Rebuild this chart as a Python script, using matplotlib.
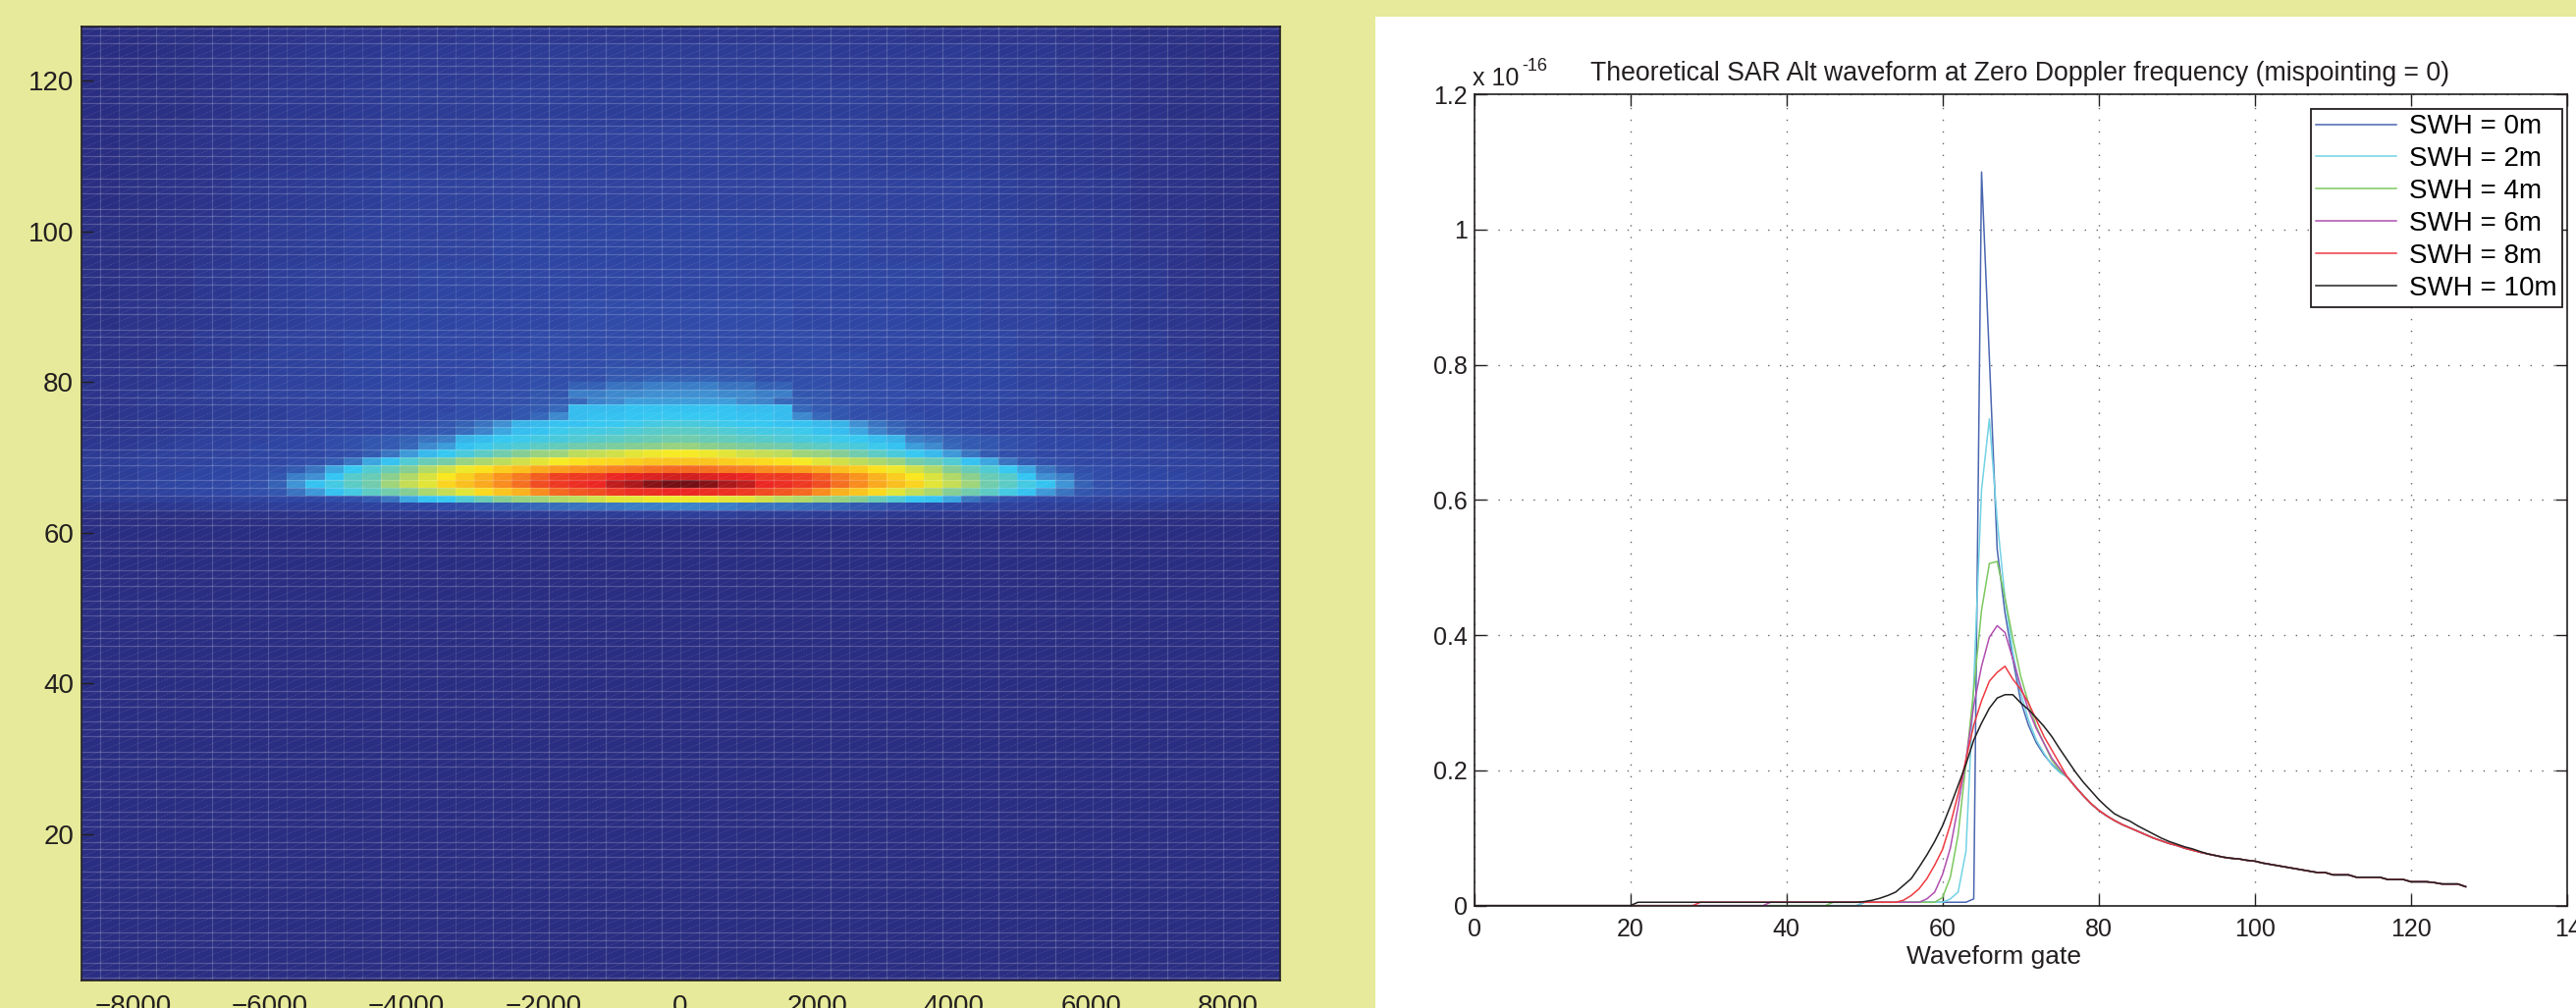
import numpy as np
import matplotlib
matplotlib.use('Agg')
import matplotlib.pyplot as plt
from matplotlib.collections import LineCollection
from matplotlib.colors import LinearSegmentedColormap
from matplotlib.patches import Rectangle
from matplotlib.transforms import ScaledTranslation

W, H = 2624, 1027
INK = '#231f20'
plt.rcParams['font.family'] = ['Liberation Sans', 'DejaVu Sans']

# left panel: power per range row, half of the Doppler beams, centre outwards
row_starts = [0, 61, 62, 63, 64, 65, 66, 67, 68, 69, 70, 71, 72, 73, 74, 75, 76, 77]
rows_low = [
    [0] * 32,
    [2, 2, 2, 2, 2, 2, 2, 2, 2, 2, 1, 1, 1, 1, 1, 1, 1, 1, 1, 1, 1, 1, 0, 0, 0, 0, 0, 0, 0, 0, 0, 0],
    [8, 8, 8, 7, 7, 7, 7, 6, 6, 6, 6, 5, 5, 5, 4, 4, 4, 3, 3, 3, 3, 2, 2, 2, 2, 1, 1, 1, 1, 1, 0, 0],
    [23, 22, 22, 21, 20, 20, 19, 18, 17, 16, 15, 14, 13, 12, 11, 10, 10, 9, 9, 8, 8, 8, 7, 7, 6, 6, 5, 5, 4, 4, 3, 3],
    [61, 61, 60, 60, 58, 56, 55, 53, 52, 50, 46, 42, 38, 36, 30, 20, 16, 14, 13, 12, 11, 11, 10, 10, 9, 9, 8, 8, 7, 7, 6, 6],
    [87, 86, 86, 85, 83, 82, 80, 76, 71, 68, 65, 60, 57, 54, 50, 47, 44, 40, 36, 27, 20, 15, 14, 13, 12, 12, 11, 10, 9, 8, 7, 7],
    [100, 98, 94, 92, 87, 86, 85, 83, 79, 76, 72, 69, 66, 60, 57, 53, 47, 44, 40, 36, 26, 17, 14, 13, 12, 12, 11, 11, 10, 9, 8, 7],
    [90, 89, 88, 87, 85, 85, 84, 81, 78, 75, 71, 67, 63, 59, 55, 51, 46, 43, 37, 25, 22, 15, 13, 12, 12, 11, 11, 10, 9, 8, 7, 7],
    [80, 79, 78, 77, 76, 75, 74, 72, 69, 67, 64, 61, 58, 55, 50, 46, 42, 38, 30, 20, 16, 14, 13, 12, 11, 11, 10, 10, 9, 8, 7, 7],
    [68, 68, 67, 66, 65, 64, 62, 60, 58, 56, 54, 52, 48, 46, 42, 36, 30, 20, 16, 14, 13, 12, 12, 11, 11, 10, 10, 9, 9, 8, 7, 7],
    [62, 61, 60, 58, 57, 56, 53, 52, 50, 47, 44, 41, 38, 34, 27, 20, 16, 14, 13, 12, 12, 11, 11, 10, 10, 10, 9, 9, 8, 7, 6, 6],
    [52, 51, 50, 49, 48, 47, 45, 44, 42, 41, 39, 36, 28, 24, 18, 16, 15, 14, 13, 12, 12, 11, 11, 10, 10, 9, 9, 8, 7, 6, 5, 5],
    [47, 46, 45, 44, 43, 42, 41, 40, 39, 38, 35, 33, 22, 20, 17, 16, 15, 14, 13, 12, 12, 11, 10, 10, 9, 9, 8, 7, 6, 5, 5, 4],
    [44, 43, 42, 41, 40, 40, 39, 36, 35, 30, 23, 19, 16, 15, 14, 13, 12, 12, 11, 11, 10, 10, 9, 9, 8, 8, 7, 6, 5, 5, 4, 4],
    [41, 40, 39, 38, 38, 36, 36, 34, 33, 25, 20, 17, 15, 14, 13, 12, 12, 11, 11, 10, 10, 9, 9, 8, 8, 7, 6, 6, 5, 4, 4, 3],
    [38, 38, 37, 36, 36, 35, 24, 18, 15, 14, 14, 13, 13, 12, 12, 11, 11, 10, 10, 9, 9, 8, 8, 7, 7, 6, 6, 5, 5, 4, 3, 3],
    [36, 36, 36, 35, 35, 35, 18, 16, 15, 14, 13, 13, 12, 12, 12, 11, 11, 10, 10, 9, 9, 8, 8, 7, 7, 6, 6, 5, 5, 4, 3, 3],
    [28, 28, 28, 24, 23, 18, 16, 15, 14, 14, 13, 13, 12, 12, 12, 11, 11, 11, 10, 10, 9, 9, 8, 8, 7, 7, 6, 6, 5, 4, 3, 3],
]
# upper rows change slowly, read in blocks of two beams
upper_starts = [78, 79, 80, 81, 82, 84, 87, 91, 96, 102, 108, 114, 120, 125]
rows_upper = [
    [25, 24, 22, 15, 14, 13, 13, 12, 12, 11, 10, 9, 8, 6, 5, 3],
    [22, 20, 17, 14, 13, 13, 12, 12, 11, 10, 10, 9, 7, 6, 4, 3],
    [17, 16, 14, 14, 13, 13, 12, 12, 11, 10, 10, 9, 7, 5, 4, 3],
    [15, 15, 14, 13, 13, 12, 12, 12, 11, 10, 9, 8, 7, 5, 4, 3],
    [14, 14, 13, 13, 13, 12, 12, 11, 11, 10, 9, 8, 6, 5, 3, 2],
    [13, 13, 13, 13, 12, 12, 12, 11, 11, 10, 9, 7, 6, 4, 3, 2],
    [13, 13, 13, 12, 12, 12, 11, 11, 10, 10, 8, 7, 5, 4, 3, 1],
    [12, 12, 12, 12, 11, 11, 11, 10, 10, 9, 8, 6, 5, 3, 2, 1],
    [11, 11, 11, 11, 11, 10, 10, 10, 9, 8, 7, 6, 4, 3, 1, 1],
    [10, 10, 10, 10, 10, 9, 9, 9, 8, 7, 6, 5, 3, 2, 1, 0],
    [9, 9, 9, 9, 9, 8, 8, 8, 7, 6, 5, 4, 3, 2, 1, 0],
    [8, 8, 8, 8, 8, 7, 7, 7, 6, 5, 5, 4, 2, 1, 1, 0],
    [7, 7, 7, 7, 6, 6, 6, 6, 5, 5, 4, 3, 2, 1, 0, 0],
    [5, 5, 5, 5, 5, 5, 4, 4, 4, 4, 3, 2, 1, 1, 0, 0],
]
doppler_ticks = [-8000, -6000, -4000, -2000, 0, 2000, 4000, 6000, 8000]
range_ticks = [20, 40, 60, 80, 100, 120]

# right panel: waveforms, x 1e-16
swh_labels = ['SWH = 0m', 'SWH = 2m', 'SWH = 4m', 'SWH = 6m', 'SWH = 8m', 'SWH = 10m']
swh_colors = ['#4a66b0', '#72d2e4', '#7cc860', '#b04fb0', '#ee3b42', INK]
first_raised_gate = [60, 55, 46, 38, 29, 21]
low_level = 0.005
# gates 50 to 75
head_0m = [.005, .005, .005, .005, .005, .005, .005, .005, .005, .005, .005, .005, .005, .005, .01,
           1.085, .81, .527, .433, .365, .303, .267, .241, .223, .209, .198]
head_2m = [.005, .005, .005, .005, .005, .005, .005, .005, .005, .005, .005, .01, .02, .08, .33,
           .615, .72, .57, .455, .375, .315, .275, .245, .225, .208, .197]
head_4m = [.005, .005, .005, .005, .005, .005, .005, .005, .005, .005, .012, .042, .105, .21, .32,
           .437, .506, .509, .455, .395, .34, .3, .265, .24, .215, .2]
head_6m = [.005, .005, .005, .005, .005, .005, .005, .005, .01, .02, .046, .085, .147, .216, .296,
           .354, .397, .414, .404, .365, .325, .29, .262, .24, .218, .203]
head_8m = [.005, .005, .005, .005, .005, .008, .015, .025, .04, .06, .083, .12, .165, .216, .267,
           .303, .332, .345, .354, .335, .32, .3, .275, .25, .23, .21]
head_10m = [.006, .008, .011, .015, .02, .03, .04, .057, .075, .095, .118, .147, .178, .209, .245,
            .27, .292, .307, .312, .312, .3, .29, .278, .265, .25, .232]
# gates 76 to 127
tail_common = [.19, .176, .163, .151, .141, .133, .126, .12, .115, .11, .105, .1, .096, .092, .089,
               .085, .082, .079, .0764, .074, .0716, .07, .069, .067, .0658, .063, .061, .059, .057, .055,
               .053, .051, .049, .049, .0455, .0455, .0455, .042, .042, .042, .042, .0387, .0387, .0387,
               .0353, .0353, .0353, .034, .032, .032, .032, .028]
tail_10m = [.215, .198, .183, .17, .157, .146, .136, .13, .125, .118, .112, .106, .1, .095, .091,
            .087, .084, .08, .0764, .074, .0716, .07, .069, .067, .0658, .063, .061, .059, .057, .055,
            .053, .051, .049, .049, .0455, .0455, .0455, .042, .042, .042, .042, .0387, .0387, .0387,
            .0353, .0353, .0353, .034, .032, .032, .032, .028]
heads = [head_0m, head_2m, head_4m, head_6m, head_8m, head_10m]
tails = [tail_common] * 5 + [tail_10m]
gate_ticks = [0, 20, 40, 60, 80, 100, 120, 140]
power_ticks = [0, 0.2, 0.4, 0.6, 0.8, 1, 1.2]
power_tick_labels = ['0', '0.2', '0.4', '0.6', '0.8', '1', '1.2']


def fig_x(px):
    return px / W


def fig_y(py):
    return 1 - py / H


def axes_rect(left, top, right, bottom):
    return [fig_x(left), fig_y(bottom), (right - left) / W, (bottom - top) / H]


fig = plt.figure(figsize=(W / 100, H / 100), dpi=100, facecolor='#e6ea9a')
fig.add_artist(Rectangle((fig_x(1401), 0), 1 - fig_x(1401), fig_y(17), transform=fig.transFigure,
                         facecolor='white', edgecolor='none', zorder=-5))

# --- left panel
jet_print = LinearSegmentedColormap.from_list('jet_print', [
    (0.0, '#2a2e82'), (0.125, '#2f48a6'), (0.25, '#3f8fd2'), (0.375, '#34c8f5'),
    (0.5, '#82cd96'), (0.625, '#faeb1e'), (0.75, '#fa961e'), (0.875, '#eb2323'), (1.0, '#730f14')])

all_starts = row_starts + upper_starts
half_rows = [np.array(r, dtype=float) for r in rows_low] + [np.repeat(r, 2).astype(float) for r in rows_upper]
grid = []
for row in range(128):
    half = half_rows[np.searchsorted(all_starts, row, side='right') - 1]
    grid.append(np.concatenate((half[::-1], half)))
grid = np.array(grid)

x_edges = np.linspace(-8760, 8760, 65)
y_edges = np.arange(129)

ax1 = fig.add_axes(axes_rect(82.5, 27, 1303.5, 999))
ax1.pcolormesh(x_edges, y_edges, grid, cmap=jet_print, vmin=0, vmax=100, rasterized=True)

# the mesh that shows through in the original
ax1.hlines(y_edges[y_edges % 4 != 0], x_edges[0], x_edges[-1], color='white', alpha=0.2, lw=0.9)
ax1.vlines(x_edges, y_edges[0], y_edges[-1], color='white', alpha=0.1, lw=0.9)
ax1.vlines(x_edges[1::3], y_edges[0], y_edges[-1], color='white', alpha=0.08, lw=0.9)
xa, ya = np.meshgrid(x_edges[:-1], y_edges[:-1])
xb, yb = np.meshgrid(x_edges[1:], y_edges[1:])
diagonals = np.stack((np.column_stack((xa.ravel(), ya.ravel())), np.column_stack((xb.ravel(), yb.ravel()))), axis=1)
ax1.add_collection(LineCollection(diagonals, colors='white', alpha=0.13, linewidths=0.6, linestyles=(0, (2, 1.5))))

ax1.set_xlim(-8760, 8760)
ax1.set_ylim(0.6, 127.2)
ax1.set_xticks(doppler_ticks)
ax1.set_yticks(range_ticks)
ax1.tick_params(axis='y', direction='in', length=8.5, width=1, labelsize=20, pad=5.4, colors=INK)
ax1.tick_params(axis='x', direction='in', length=0, labelsize=20, pad=10, colors=INK)
for spine in ax1.spines.values():
    spine.set_color(INK)
    spine.set_linewidth(1.2)

# --- right panel
ax2 = fig.add_axes(axes_rect(1501.5, 96, 2615, 922.7), facecolor='white')
for i in range(6):
    early = [low_level if g >= first_raised_gate[i] else 0 for g in range(50)]
    ax2.plot(range(128), early + heads[i] + tails[i], color=swh_colors[i], lw=1.1, label=swh_labels[i])

ax2.set_xlim(0, 140)
ax2.set_ylim(0, 1.2)
ax2.set_xticks(gate_ticks)
ax2.set_yticks(power_ticks)
ax2.set_yticklabels(power_tick_labels)
ax2.grid(True, color='#666666', linestyle=(0, (1, 7.6)), linewidth=1.0)
ax2.tick_params(axis='both', direction='in', length=8.5, width=1, labelsize=18, colors=INK, top=True, right=True)
ax2.tick_params(axis='x', pad=9)
ax2.tick_params(axis='y', pad=5)
for spine in ax2.spines.values():
    spine.set_color(INK)
    spine.set_linewidth(1.2)

# last label runs off the page, only "14" shows
last = ax2.get_xticklabels()[-1]
last.set_transform(last.get_transform() + ScaledTranslation(6 / 72, 0, fig.dpi_scale_trans))

leg = ax2.legend(loc='upper right', fontsize=20, frameon=True, fancybox=False, framealpha=1, edgecolor=INK,
                 borderaxespad=0, handlelength=2.95, handletextpad=0.45, labelspacing=0.25, borderpad=0.2)
leg.set_bbox_to_anchor((fig_x(2610), fig_y(110.7)), transform=fig.transFigure)
leg.get_frame().set_linewidth(1.3)

fig.text(fig_x(2058), fig_y(82), 'Theoretical SAR Alt waveform at Zero Doppler frequency (mispointing = 0)',
         ha='center', va='baseline', fontsize=19.2, color=INK)
fig.text(fig_x(1500), fig_y(87), 'x 10', ha='left', va='baseline', fontsize=18, color=INK)
fig.text(fig_x(1550), fig_y(72), '-16', ha='left', va='baseline', fontsize=13, color=INK)
fig.text(fig_x(2031), fig_y(982), 'Waveform gate', ha='center', va='baseline', fontsize=19, color=INK)

fig.savefig('out.png', dpi=100, facecolor=fig.get_facecolor())
